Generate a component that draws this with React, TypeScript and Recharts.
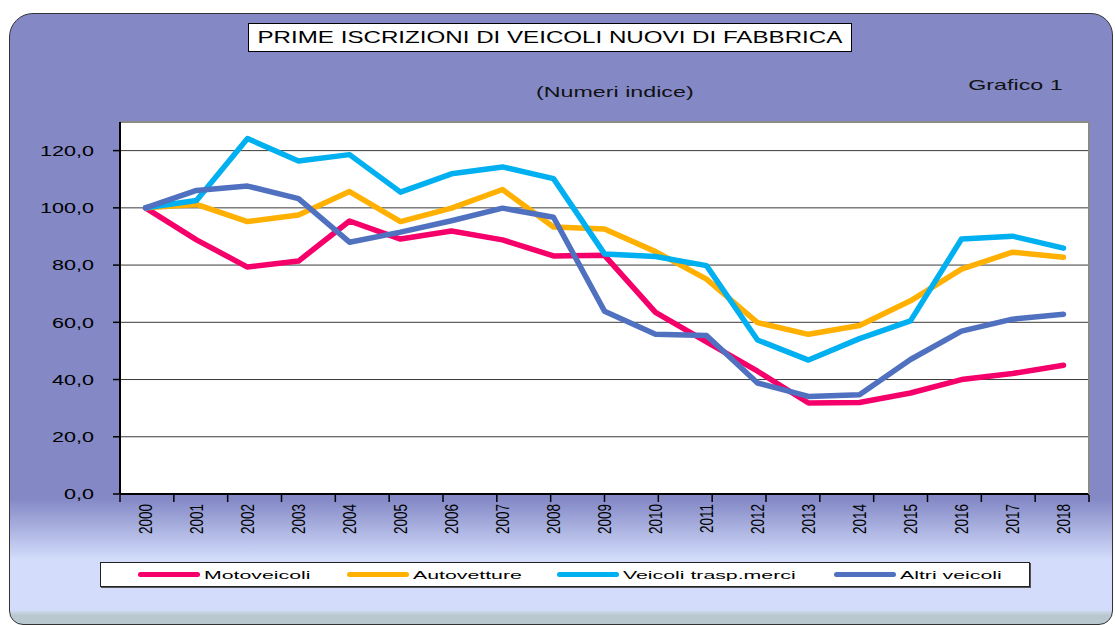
import React from 'react';
import { LineChart, Line, XAxis, YAxis, CartesianGrid } from 'recharts';

const years = [
  '2000', '2001', '2002', '2003', '2004', '2005', '2006', '2007', '2008', '2009',
  '2010', '2011', '2012', '2013', '2014', '2015', '2016', '2017', '2018',
];
const motoveicoli = [100, 88.8, 79.3, 81.4, 95.4, 89.1, 91.9, 88.8, 83.2, 83.4, 63.5, 53.2, 42.9, 31.8, 32.0, 35.3, 40.0, 42.1, 45.0];
const autovetture = [100, 101.2, 95.2, 97.5, 105.7, 95.2, 99.9, 106.4, 93.3, 92.6, 84.7, 75.1, 59.9, 55.8, 58.9, 67.5, 78.6, 84.5, 82.7];
const veicoliMerci = [100, 102.6, 124.2, 116.4, 118.6, 105.5, 111.9, 114.3, 110.2, 83.9, 83.0, 79.8, 53.8, 46.8, 54.3, 60.5, 89.1, 90.1, 85.9];
const altriVeicoli = [100, 106.1, 107.6, 103.2, 88.0, 91.5, 95.5, 99.9, 96.7, 63.9, 55.8, 55.4, 38.8, 34.1, 34.7, 47.0, 56.9, 61.1, 62.8];
const yTicks = [0, 20, 40, 60, 80, 100, 120];

const series = [
  { key: 'moto', name: 'Motoveicoli', color: '#F5006A', values: motoveicoli },
  { key: 'auto', name: 'Autovetture', color: '#FFB000', values: autovetture },
  { key: 'merci', name: 'Veicoli trasp.merci', color: '#00B0F0', values: veicoliMerci },
  { key: 'altri', name: 'Altri veicoli', color: '#5070C0', values: altriVeicoli },
];

const data = years.map((year, i) => {
  const row: Record<string, string | number> = { year };
  series.forEach((s) => {
    row[s.key] = s.values[i];
  });
  return row;
});

// category boundaries, for the Excel-style tick marks between the years
const boundaryTicks = years.map((_, i) => i).concat(years.length);

const FONT = '"Liberation Sans", Arial, sans-serif';

const YearTick = (props: any) => {
  const { x, y, payload } = props;
  return (
    <g transform={`translate(${x},${y + 10}) scale(1.37,1) rotate(-90)`}>
      <text textAnchor="end" dy="0.36em" fontSize={13.5} fontFamily={FONT} fill="#000">
        {payload.value}
      </text>
    </g>
  );
};

const ValueTick = (props: any) => {
  const { x, y, payload } = props;
  return (
    <g transform={`translate(${x},${y}) scale(1.44,1)`}>
      <text textAnchor="end" dy="0.36em" fontSize={15} fontFamily={FONT} fill="#000">
        {Number(payload.value).toFixed(1).replace('.', ',')}
      </text>
    </g>
  );
};

const NoLabel = () => <g />;

const legendOffsets = [37, 246, 456, 733];

const App = () => {
  return (
    <div style={{ position: 'absolute', left: 0, top: 0, width: 1115, height: 625, overflow: 'hidden', background: '#fff' }}>
      <div
        style={{
          position: 'absolute',
          left: 9,
          top: 13,
          width: 1104,
          height: 612,
          boxSizing: 'border-box',
          border: '1.5px solid #333',
          borderRadius: '24px 22px 14px 14px',
          background:
            'linear-gradient(to bottom, #8489C6 0%, #8489C6 79.5%, #D3DDFB 89.5%, #D3DDFB 97.6%, #B9C8CE 98.6%, #B9C8CE 100%)',
        }}
      />
      <div
        style={{
          position: 'absolute',
          left: 248,
          top: 23,
          width: 604,
          height: 29,
          boxSizing: 'border-box',
          border: '1px solid #000',
          background: '#fff',
          textAlign: 'center',
          lineHeight: '28px',
          fontFamily: FONT,
          fontSize: 17,
          color: '#000',
        }}
      >
        <span style={{ display: 'inline-block', transform: 'scaleX(1.42)' }}>
          PRIME ISCRIZIONI DI VEICOLI NUOVI DI FABBRICA
        </span>
      </div>
      <div
        style={{
          position: 'absolute',
          left: 415,
          top: 82,
          width: 400,
          textAlign: 'center',
          fontFamily: FONT,
          fontSize: 15,
          lineHeight: '20px',
          color: '#111',
        }}
      >
        <span style={{ display: 'inline-block', transform: 'scaleX(1.55)' }}>(Numeri indice)</span>
      </div>
      <div
        style={{
          position: 'absolute',
          left: 915,
          top: 75,
          width: 200,
          textAlign: 'center',
          fontFamily: FONT,
          fontSize: 15,
          lineHeight: '20px',
          color: '#111',
        }}
      >
        <span style={{ display: 'inline-block', transform: 'scaleX(1.55)' }}>Grafico 1</span>
      </div>

      <div style={{ position: 'absolute', left: 0, top: 0 }}>
        <LineChart width={1115} height={625} data={data} margin={{ top: 121, right: 25, bottom: 86, left: 60 }}>
          <CartesianGrid vertical={false} fill="#fff" stroke="#3a3a3a" strokeWidth={1} />
          <XAxis
            dataKey="year"
            interval={0}
            height={1}
            padding={{ left: 25.5, right: 25.5 }}
            axisLine={{ stroke: '#000', strokeWidth: 2 }}
            tickLine={false}
            tickSize={0}
            tickMargin={0}
            tick={<YearTick />}
          />
          <XAxis
            xAxisId="bounds"
            type="number"
            domain={[0, years.length]}
            ticks={boundaryTicks}
            interval={0}
            allowDataOverflow
            height={44}
            axisLine={false}
            tick={<NoLabel />}
            tickLine={{ stroke: '#000', strokeWidth: 1.5 }}
            tickSize={7}
          />
          <XAxis
            xAxisId="top"
            orientation="top"
            type="number"
            domain={[0, 1]}
            allowDataOverflow
            height={1}
            tick={false}
            tickLine={false}
            axisLine={{ stroke: '#8a8a8a', strokeWidth: 2 }}
          />
          <YAxis
            domain={[0, 130]}
            ticks={yTicks}
            interval={0}
            width={60}
            axisLine={{ stroke: '#000', strokeWidth: 2 }}
            tickLine={{ stroke: '#000', strokeWidth: 1.5 }}
            tickSize={7}
            tickMargin={19}
            tick={<ValueTick />}
          />
          <YAxis
            yAxisId="r"
            orientation="right"
            type="number"
            domain={[0, 1]}
            width={1}
            tick={false}
            tickLine={false}
            axisLine={{ stroke: '#8a8a8a', strokeWidth: 2 }}
          />
          {series.map((s) => (
            <Line
              key={s.key}
              type="linear"
              dataKey={s.key}
              name={s.name}
              stroke={s.color}
              strokeWidth={5.5}
              strokeLinejoin="round"
              strokeLinecap="round"
              dot={false}
              activeDot={false}
              isAnimationActive={false}
            />
          ))}
        </LineChart>
      </div>

      <div
        style={{
          position: 'absolute',
          left: 100,
          top: 562,
          width: 930,
          height: 25,
          boxSizing: 'border-box',
          border: '1px solid #222',
          boxShadow: '1px 1px 0 #555',
          background: '#fff',
        }}
      >
        {series.map((s, i) => (
          <div
            key={s.key}
            style={{ position: 'absolute', left: legendOffsets[i], top: 0, height: 23, display: 'flex', alignItems: 'center' }}
          >
            <div style={{ width: 62, height: 4.5, borderRadius: 3, background: s.color }} />
            <span
              style={{
                display: 'inline-block',
                marginLeft: 4,
                fontFamily: FONT,
                fontSize: 11.5,
                color: '#000',
                transform: 'scaleX(1.85)',
                transformOrigin: 'left center',
                whiteSpace: 'nowrap',
              }}
            >
              {s.name}
            </span>
          </div>
        ))}
      </div>
    </div>
  );
};

export default App;
